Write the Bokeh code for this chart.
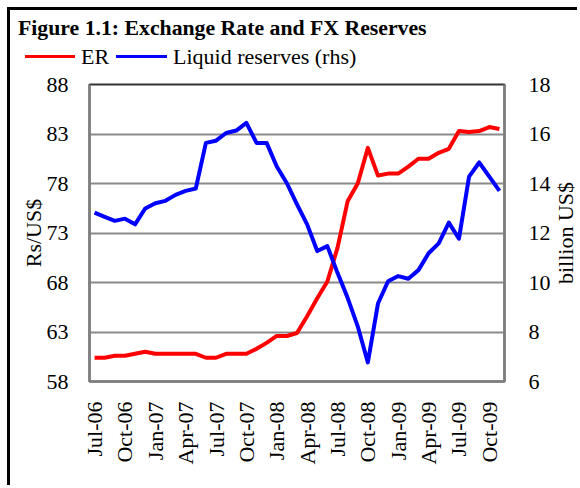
from math import pi
from bokeh.plotting import figure
from bokeh.layouts import column, row
from bokeh.models import Range1d, LinearAxis, FixedTicker, Div
from bokeh.embed import file_html
from bokeh.resources import INLINE

# ---------------- data ----------------
months = ["Jul-06", "Aug-06", "Sep-06", "Oct-06", "Nov-06", "Dec-06",
          "Jan-07", "Feb-07", "Mar-07", "Apr-07", "May-07", "Jun-07",
          "Jul-07", "Aug-07", "Sep-07", "Oct-07", "Nov-07", "Dec-07",
          "Jan-08", "Feb-08", "Mar-08", "Apr-08", "May-08", "Jun-08",
          "Jul-08", "Aug-08", "Sep-08", "Oct-08", "Nov-08", "Dec-08",
          "Jan-09", "Feb-09", "Mar-09", "Apr-09", "May-09", "Jun-09",
          "Jul-09", "Aug-09", "Sep-09", "Oct-09", "Nov-09"]

er = [60.4, 60.4, 60.6, 60.6, 60.8, 61.0, 60.8, 60.8, 60.8, 60.8, 60.8,
      60.4, 60.4, 60.8, 60.8, 60.8, 61.3, 61.9, 62.6, 62.6, 62.9,
      64.6, 66.4, 68.1, 71.5, 76.2, 78.0, 81.6, 78.8, 79.0, 79.0,
      79.7, 80.5, 80.5, 81.1, 81.5, 83.3, 83.2, 83.3, 83.7, 83.5]

reserves = [12.82, 12.65, 12.49, 12.58, 12.35, 12.99, 13.2, 13.3, 13.54, 13.7, 13.8,
            15.64, 15.73, 16.04, 16.14, 16.45, 15.64, 15.64, 14.69, 14.01, 13.16,
            12.35, 11.27, 11.47, 10.39, 9.38, 8.23, 6.77, 9.15, 10.05, 10.26,
            10.15, 10.5, 11.18, 11.58, 12.42, 11.77, 14.28, 14.85, 14.28, 13.7]

left_ticks = [58, 63, 68, 73, 78, 83, 88]
right_ticks = [6, 8, 10, 12, 14, 16, 18]
label_every = 3

title_text = "Figure 1.1: Exchange Rate and FX Reserves"
left_label = "Rs/US$"
right_label = "billion US$"
series_names = ["ER", "Liquid reserves (rhs)"]
series_colors = ["#FF0000", "#0000FF"]

# ---------------- layout constants ----------------
FONT = "Liberation Serif"
FS = "22px"
VIEW_W = 567
HEAD_H = 63
MAIN_H = 412
MAIN_W = 545
SIDE_W = VIEW_W - MAIN_W
FRAME_RIGHT = 494
CSS_FONT = "font-family:'Liberation Serif',serif;color:black;line-height:1;"

# ---------------- header: title + legend (HTML) ----------------
key_x = [(15, 50, 71), (106, 51, 163)]   # line left, line width, label left
parts = ['<div style="position:relative;width:%dpx;height:%dpx;%s">'
         % (VIEW_W, HEAD_H, CSS_FONT),
         '<span style="position:absolute;left:8px;top:8px;font-size:21.75px;'
         'font-weight:bold;white-space:nowrap;">%s</span>' % title_text]
for (lx, lw, tx), name, col in zip(key_x, series_names, series_colors):
    parts.append('<span style="position:absolute;left:%dpx;top:45px;width:%dpx;'
                 'height:0;border-top:3px solid %s;"></span>' % (lx, lw, col))
    parts.append('<span style="position:absolute;left:%dpx;top:36px;font-size:22px;'
                 'white-space:nowrap;">%s</span>' % (tx, name))
parts.append('</div>')
head = Div(text="".join(parts), width=VIEW_W, height=HEAD_H, margin=0)

# ---------------- right-hand axis title (reads bottom to top) ----------------
side = Div(text='<div style="position:relative;width:%dpx;height:%dpx;%s">'
                '<span style="position:absolute;left:0px;top:211px;font-size:22px;'
                'white-space:nowrap;transform-origin:0 0;transform:rotate(-90deg);">'
                '%s</span></div>' % (SIDE_W, MAIN_H, CSS_FONT, right_label),
           width=SIDE_W, height=MAIN_H, margin=0)

# ---------------- main chart ----------------
x = list(range(len(months)))
p = figure(width=MAIN_W, height=MAIN_H, output_backend="svg", toolbar_location=None,
           x_range=Range1d(-0.5, len(months) - 0.5),
           y_range=Range1d(left_ticks[0], left_ticks[-1]),
           min_border_left=79, min_border_right=MAIN_W - FRAME_RIGHT,
           min_border_top=11, min_border_bottom=104)
p.extra_y_ranges = {"res": Range1d(right_ticks[0], right_ticks[-1])}
p.background_fill_color = "white"
p.border_fill_color = "white"
p.outline_line_color = "#333333"
p.outline_line_width = 2

lt = FixedTicker(ticks=left_ticks)
p.yaxis.ticker = lt
p.ygrid.ticker = lt
p.ygrid.grid_line_color = "#8a8a8a"
p.ygrid.grid_line_width = 2
p.xgrid.visible = False

xt = x[::label_every]
p.xaxis.ticker = FixedTicker(ticks=xt)
p.xaxis.major_label_overrides = {i: months[i] for i in xt}
p.xaxis.major_label_orientation = pi / 2
p.xaxis.major_label_standoff = 20

ra = LinearAxis(y_range_name="res", ticker=FixedTicker(ticks=right_ticks))
p.add_layout(ra, "right")

for ax in [p.xaxis[0], p.yaxis[0], ra]:
    ax.major_tick_out = 0
    ax.major_tick_in = 0
    ax.minor_tick_out = 0
    ax.minor_tick_in = 0
    ax.axis_line_color = "#808080"
    ax.axis_line_width = 2.5
    ax.major_label_text_font = FONT
    ax.major_label_text_font_size = FS
    ax.major_label_text_color = "black"

p.yaxis[0].major_label_standoff = 21
ra.major_label_standoff = 24

ya = p.yaxis[0]
ya.axis_label = left_label
ya.axis_label_text_font = FONT
ya.axis_label_text_font_size = FS
ya.axis_label_text_font_style = "normal"
ya.axis_label_text_color = "black"
ya.axis_label_standoff = -2

p.line(x, er, line_color=series_colors[0], line_width=4, line_join="round")
p.line(x, reserves, y_range_name="res", line_color=series_colors[1], line_width=4,
       line_join="round")

layout = column(head, row(p, side, spacing=0), spacing=0)
layout.styles = {"border-left": "3px solid black", "border-top": "3px solid black",
                 "margin-left": "7px", "margin-top": "7px", "overflow": "hidden"}

open("out.html", "w").write(file_html(layout, INLINE))
